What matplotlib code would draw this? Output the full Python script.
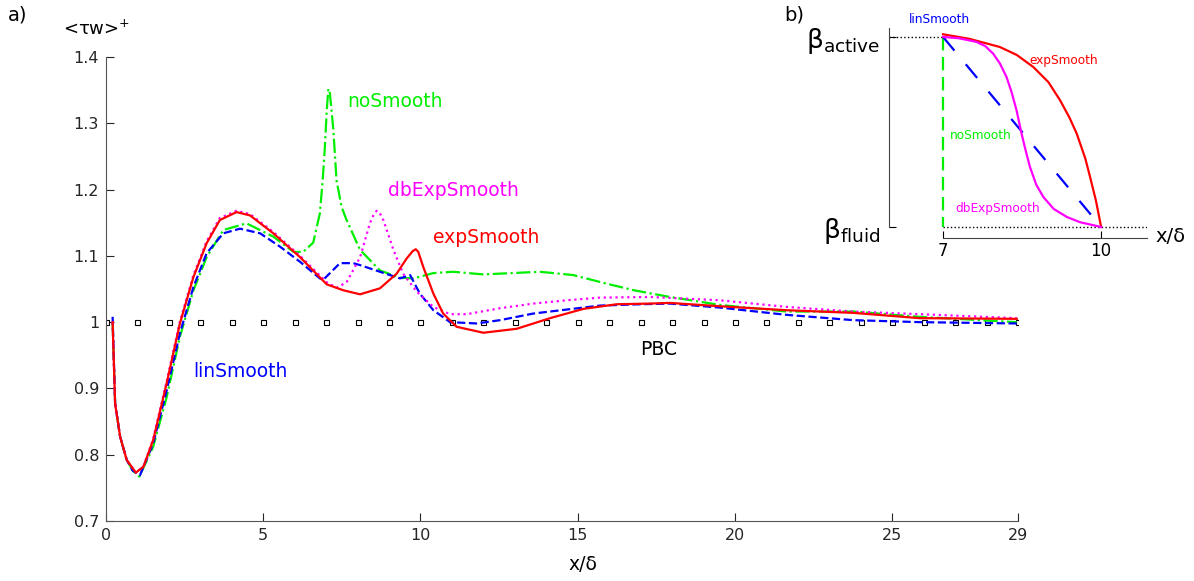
import matplotlib
matplotlib.use("Agg")
import matplotlib.pyplot as plt

# ---- main panel data (x/delta, <tau_w>+) ----
exp_x = [0.21, 0.29, 0.45, 0.66, 0.95, 1.19, 1.50, 1.93, 2.35, 2.78, 3.20, 3.62, 4.15, 4.58,
         5.32, 6.17, 7.02, 7.55, 8.08, 8.71, 9.24, 9.56, 9.75, 9.85, 9.93, 10.09, 10.41, 10.72,
         11.15, 12.0, 13.06, 14.12, 15.18, 16.24, 17.3, 17.93, 19.52, 21.64, 23.76, 25.88, 28.96]
exp_y = [1.0, 0.877, 0.827, 0.792, 0.773, 0.782, 0.822, 0.908, 0.998, 1.068, 1.119, 1.154, 1.166, 1.161,
         1.134, 1.098, 1.057, 1.048, 1.042, 1.051, 1.073, 1.096, 1.107, 1.110, 1.106, 1.083, 1.043, 1.013,
         0.993, 0.984, 0.990, 1.006, 1.020, 1.027, 1.028, 1.029, 1.024, 1.018, 1.014, 1.006, 1.005]

dbexp_x = [0.21, 0.29, 0.45, 0.66, 0.95, 1.19, 1.50, 1.93, 2.35, 2.78, 3.20, 3.62, 4.15, 4.58,
           5.32, 6.17, 7.02, 7.33, 7.65, 8.08, 8.39, 8.52, 8.61, 8.70, 8.82, 9.14, 9.45, 9.88, 10.41,
           10.94, 11.47, 12.53, 13.59, 14.65, 15.71, 17.3, 19.52, 21.64, 23.76, 25.88, 28.96]
dbexp_y = [1.0, 0.877, 0.827, 0.792, 0.773, 0.782, 0.824, 0.911, 1.001, 1.071, 1.122, 1.157, 1.168, 1.163,
           1.136, 1.100, 1.060, 1.052, 1.060, 1.098, 1.149, 1.163, 1.168, 1.165, 1.154, 1.109, 1.073, 1.046,
           1.023, 1.012, 1.012, 1.021, 1.028, 1.033, 1.037, 1.038, 1.033, 1.023, 1.016, 1.012, 1.006]

no_x = [0.21, 0.29, 0.45, 0.66, 0.85, 1.06, 1.50, 1.93, 2.35, 2.78, 3.20, 3.73, 4.47, 5.32, 5.96,
        6.27, 6.59, 6.80, 6.89, 6.96, 7.02, 7.07, 7.12, 7.18, 7.23, 7.33, 7.49, 7.65, 8.08, 8.71,
        9.35, 9.77, 10.41, 11.04, 12.0, 13.8, 14.86, 15.92, 16.8, 17.93, 19.52, 21.64, 23.76,
        25.88, 28.96]
no_y = [1.0, 0.877, 0.827, 0.792, 0.776, 0.767, 0.812, 0.887, 0.978, 1.048, 1.098, 1.139, 1.149, 1.129, 1.106,
        1.106, 1.120, 1.164, 1.214, 1.264, 1.320, 1.352, 1.345, 1.315, 1.290, 1.214, 1.174, 1.154, 1.109,
        1.078, 1.067, 1.066, 1.074, 1.076, 1.072, 1.076, 1.071, 1.058, 1.048, 1.038, 1.026, 1.016, 1.016,
        1.008, 1.0]

lin_x = [0.21, 0.29, 0.45, 0.66, 0.85, 1.08, 1.50, 1.93, 2.35, 2.78, 3.20, 3.73, 4.26, 4.90, 5.53,
         6.17, 6.80, 6.91, 7.44, 7.86, 8.08, 8.71, 9.35, 9.67, 9.98, 10.41, 10.94, 11.79, 12.53,
         13.59, 14.65, 15.71, 16.98, 17.93, 19.52, 21.64, 23.76, 25.88, 28.96]
lin_y = [1.008, 0.877, 0.827, 0.792, 0.776, 0.769, 0.817, 0.897, 0.983, 1.053, 1.104, 1.134, 1.141, 1.134, 1.114,
         1.091, 1.066, 1.064, 1.089, 1.089, 1.086, 1.076, 1.066, 1.071, 1.043, 1.018, 1.0, 0.998, 1.003,
         1.013, 1.019, 1.025, 1.027, 1.028, 1.022, 1.011, 1.003, 1.0, 0.998]

pbc_x = list(range(0, 30))
pbc_y = [1.0] * 30

x_ticks = [0, 5, 10, 15, 20, 25, 29]
y_ticks = [0.7, 0.8, 0.9, 1.0, 1.1, 1.2, 1.3, 1.4]
y_ticklabels = ["0.7", "0.8", "0.9", "1", "1.1", "1.2", "1.3", "1.4"]

# ---- inset data (smoothing profiles between x/delta = 7 and 10) ----
ins_exp_x = [7.0, 7.5, 8.078, 8.4, 8.712, 9.0, 9.22, 9.4, 9.537, 9.7, 9.79, 9.9, 10.0]
ins_exp_y = [1.014, 0.99, 0.947, 0.905, 0.842, 0.762, 0.667, 0.575, 0.491, 0.36, 0.263, 0.14, 0.0]
ins_db_x = [7.0, 7.3, 7.634, 7.8, 7.951, 8.08, 8.205, 8.3, 8.395, 8.49, 8.57, 8.649, 8.77, 8.903,
            9.1, 9.347, 9.6, 10.0]
ins_db_y = [1.0, 0.993, 0.974, 0.952, 0.912, 0.86, 0.789, 0.71, 0.614, 0.491, 0.4, 0.316, 0.222, 0.158,
            0.095, 0.053, 0.025, 0.0]
ins_lin_x = [7.0, 10.0]
ins_lin_y = [1.0, 0.0]
ins_no_x = [7.0, 7.0]
ins_no_y = [1.0, 0.0]

plt.rcParams["font.family"] = "DejaVu Sans"
plt.rcParams["mathtext.fontset"] = "dejavusans"

fig = plt.figure(figsize=(11.94, 5.81), dpi=100)

# ---------------- panel a ----------------
ax = fig.add_axes([106 / 1194, 1 - 521 / 581, 912 / 1194, 464 / 581])
ax.plot(pbc_x, pbc_y, ls="none", marker="s", ms=3.6, mfc="white", mec="black", mew=0.8)
ax.plot(no_x, no_y, color="#00ee00", ls="-.", lw=1.6)
ax.plot(lin_x, lin_y, color="#0000ff", ls="--", lw=1.6)
ax.plot(dbexp_x, dbexp_y, color="#ff00ff", ls=":", lw=1.6)
ax.plot(exp_x, exp_y, color="#ff0000", ls="-", lw=1.6)

ax.set_xlim(0, 29)
ax.set_ylim(0.7, 1.4)
ax.set_xticks(x_ticks)
ax.set_yticks(y_ticks)
ax.set_yticklabels(y_ticklabels)
ax.tick_params(direction="in", length=6, labelsize=11.5, colors="#262626", pad=5)
for s in ["top", "right"]:
    ax.spines[s].set_visible(False)
for s in ["left", "bottom"]:
    ax.spines[s].set_color("#555555")

ax.text(7.66, 1.333, "noSmooth", color="#00ee00", fontsize=13.5, va="center")
ax.text(8.97, 1.198, "dbExpSmooth", color="#ff00ff", fontsize=13.5, va="center")
ax.text(10.4, 1.128, "expSmooth", color="#ff0000", fontsize=13.5, va="center")
ax.text(2.77, 0.925, "linSmooth", color="#0000ff", fontsize=13.5, va="center")
ax.text(16.98, 0.958, "PBC", color="black", fontsize=13.5, va="center")

fig.text(583 / 1194, 1 - 565 / 581, "x/δ", fontsize=13.5, ha="center", va="center")
fig.text(63 / 1194, 1 - 29 / 581, r"<τw>$^{+}$", fontsize=13, ha="left", va="center")
fig.text(8 / 1194, 1 - 15 / 581, "a)", fontsize=14, ha="left", va="center")

# ---------------- panel b (inset) ----------------
bx = fig.add_axes([889 / 1194, 1 - 238 / 581, 258 / 1194, 210 / 581])
bx.plot([5.975, 7.0], [1.0, 1.0], color="black", ls=":", lw=1.0)
bx.plot([7.0, 10.87], [0.0, 0.0], color="black", ls=":", lw=1.0)
bx.plot(ins_no_x, ins_no_y, color="#00ee00", ls=(0, (6, 3)), lw=1.6)
bx.plot(ins_lin_x, ins_lin_y, color="#0000ff", ls=(0, (8, 8)), lw=1.6)
bx.plot(ins_exp_x, ins_exp_y, color="#ff0000", lw=1.6)
bx.plot(ins_db_x, ins_db_y, color="#ff00ff", lw=1.6)

bx.set_xlim(5.975, 10.87)
bx.set_ylim(-0.058, 1.047)
bx.set_xticks([7, 10])
bx.set_xticklabels(["7", "10"])
bx.set_yticks([0, 1])
bx.set_yticklabels([r"$\mathrm{β}_{\rm fluid}$", r"$\mathrm{β}_{\rm active}$"], fontsize=19)
bx.tick_params(axis="x", direction="in", length=5, labelsize=12, pad=3)
bx.tick_params(axis="y", direction="in", length=5, pad=6)
bx.patch.set_alpha(0)
for s in ["top", "right"]:
    bx.spines[s].set_visible(False)
bx.spines["left"].set_bounds(0, 1.047)
bx.spines["bottom"].set_bounds(7, 10.87)
for s in ["left", "bottom"]:
    bx.spines[s].set_color("#444444")

bx.text(6.94, 1.09, "linSmooth", color="#0000ff", fontsize=8.7, ha="center", va="center")
bx.text(9.28, 0.874, "expSmooth", color="#ff0000", fontsize=8.7, ha="center", va="center")
bx.text(7.72, 0.479, "noSmooth", color="#00ee00", fontsize=8.7, ha="center", va="center")
bx.text(8.04, 0.095, "dbExpSmooth", color="#ff00ff", fontsize=8.7, ha="center", va="center")

fig.text(1170 / 1194, 1 - 237 / 581, "x/δ", fontsize=14, ha="center", va="center")
fig.text(784 / 1194, 1 - 15 / 581, "b)", fontsize=14, ha="left", va="center")

fig.savefig("out.png", dpi=100)
